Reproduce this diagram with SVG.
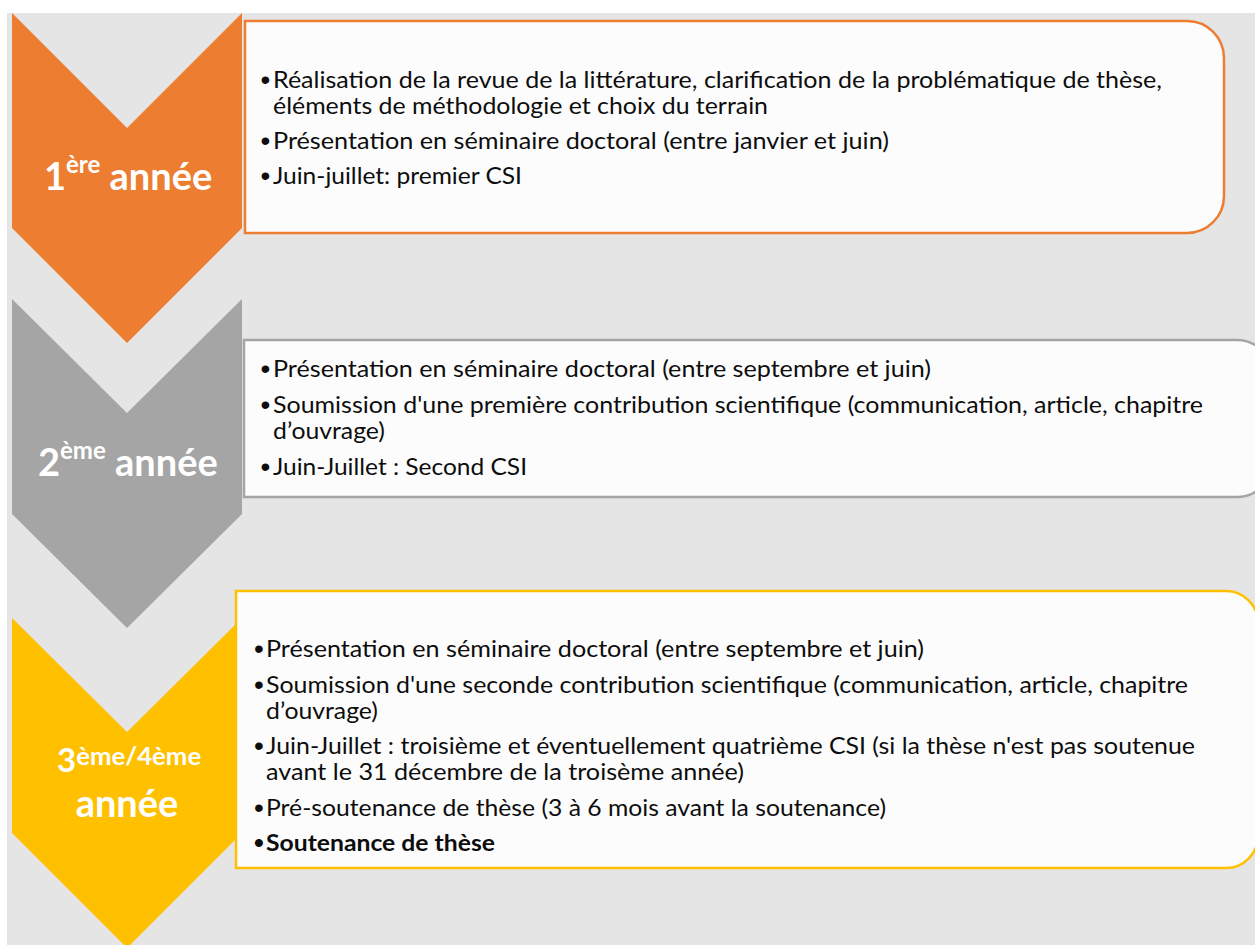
<svg xmlns="http://www.w3.org/2000/svg" width="1255" height="945" viewBox="0 0 1255 945">
<defs>
<style>
.t{font-family:Lato,"Liberation Sans",sans-serif;font-size:22.5px;fill:#0d0d0d}
.b{font-weight:bold}
.bul{font-family:"Liberation Sans",sans-serif;font-size:28px;fill:#0d0d0d;text-anchor:middle}
.lab{font-family:Lato,"Liberation Sans",sans-serif;font-weight:bold;fill:#ffffff}
.box{fill:#fcfcfc;stroke-width:2.5}
</style>
</defs>
<rect x="0" y="0" width="1255" height="945" fill="#ffffff"/>
<rect x="7" y="13" width="1248" height="932" fill="#e5e5e5"/>

<g id="year1">
<polygon points="12,13 127,128 242,13 242,228 127,343 12,228" fill="#ed7d31"/>
<text class="lab" x="44" y="190" font-size="38"><tspan>1</tspan><tspan font-size="24" dy="-17">ère</tspan><tspan dy="17"> année</tspan></text>
</g>
<g id="year2">
<polygon points="12,299 127,413 242,299 242,514 127,628 12,514" fill="#a5a5a5"/>
<text class="lab" x="38" y="476" font-size="38"><tspan>2</tspan><tspan font-size="24" dy="-17">ème</tspan><tspan dy="17"> année</tspan></text>
</g>
<g id="year3">
<polygon points="12,618 127,732 242,618 242,833 127,948 12,833" fill="#ffc000"/>
<text class="lab" x="57" y="772" font-size="33"><tspan>3</tspan><tspan font-size="25" dy="-7" textLength="125" lengthAdjust="spacingAndGlyphs">ème/4ème</tspan></text>
<text class="lab" x="127" y="817" font-size="38" text-anchor="middle">année</text>
</g>

<g id="box1">
<path class="box" stroke="#ed7d31" d="M245,21 H1187 A37,37 0 0 1 1224,58 V196 A37,37 0 0 1 1187,233 H245 Z"/>
<text class="bul" x="265.5" y="89">•</text>
<text class="t" x="273" y="88" textLength="889" lengthAdjust="spacingAndGlyphs">Réalisation de la revue de la littérature, clarification de la problématique de thèse,</text>
<text class="t" x="273" y="114" textLength="495" lengthAdjust="spacingAndGlyphs">éléments de méthodologie et choix du terrain</text>
<text class="bul" x="265.5" y="150">•</text>
<text class="t" x="273" y="149" textLength="616" lengthAdjust="spacingAndGlyphs">Présentation en séminaire doctoral (entre janvier et juin)</text>
<text class="bul" x="265.5" y="185">•</text>
<text class="t" x="273" y="184" textLength="249" lengthAdjust="spacingAndGlyphs">Juin-juillet: premier CSI</text>
</g>

<g id="box2">
<path class="box" stroke="#a5a5a5" d="M244,340 H1237 A35,35 0 0 1 1272,375 V462 A35,35 0 0 1 1237,497 H244 Z"/>
<text class="bul" x="265.5" y="378">•</text>
<text class="t" x="273" y="377" textLength="658" lengthAdjust="spacingAndGlyphs">Présentation en séminaire doctoral (entre septembre et juin)</text>
<text class="bul" x="265.5" y="414">•</text>
<text class="t" x="273" y="413" textLength="930" lengthAdjust="spacingAndGlyphs">Soumission d'une première contribution scientifique (communication, article, chapitre</text>
<text class="t" x="273" y="439" textLength="112" lengthAdjust="spacingAndGlyphs">d’ouvrage)</text>
<text class="bul" x="265.5" y="476">•</text>
<text class="t" x="273" y="475" textLength="254" lengthAdjust="spacingAndGlyphs">Juin-Juillet : Second CSI</text>
</g>

<g id="box3">
<path class="box" stroke="#ffc000" d="M236,591 H1226 A32,32 0 0 1 1258,623 V836 A32,32 0 0 1 1226,868 H236 Z"/>
<text class="bul" x="259" y="658">•</text>
<text class="t" x="266" y="657" textLength="658" lengthAdjust="spacingAndGlyphs">Présentation en séminaire doctoral (entre septembre et juin)</text>
<text class="bul" x="259" y="694">•</text>
<text class="t" x="266" y="693" textLength="922" lengthAdjust="spacingAndGlyphs">Soumission d'une seconde contribution scientifique (communication, article, chapitre</text>
<text class="t" x="266" y="719" textLength="112" lengthAdjust="spacingAndGlyphs">d’ouvrage)</text>
<text class="bul" x="259" y="755">•</text>
<text class="t" x="266" y="754" textLength="929" lengthAdjust="spacingAndGlyphs">Juin-Juillet : troisième et éventuellement quatrième CSI (si la thèse n'est pas soutenue</text>
<text class="t" x="266" y="780" textLength="478" lengthAdjust="spacingAndGlyphs">avant le 31 décembre de la troisème année)</text>
<text class="bul" x="259" y="817">•</text>
<text class="t" x="266" y="816" textLength="620" lengthAdjust="spacingAndGlyphs">Pré-soutenance de thèse (3 à 6 mois avant la soutenance)</text>
<text class="bul b" x="259" y="852">•</text>
<text class="t b" x="266" y="851" textLength="229" lengthAdjust="spacingAndGlyphs">Soutenance de thèse</text>
</g>
</svg>
